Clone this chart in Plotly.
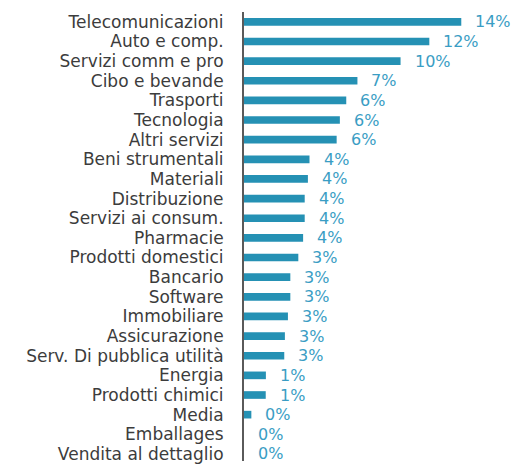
import plotly.graph_objects as go

# Sector weights (%), largest first
sectors = [
    "Telecomunicazioni", "Auto e comp.", "Servizi comm e pro", "Cibo e bevande",
    "Trasporti", "Tecnologia", "Altri servizi", "Beni strumentali", "Materiali",
    "Distribuzione", "Servizi ai consum.", "Pharmacie", "Prodotti domestici",
    "Bancario", "Software", "Immobiliare", "Assicurazione",
    "Serv. Di pubblica utilità", "Energia", "Prodotti chimici", "Media",
    "Emballages", "Vendita al dettaglio",
]
weights = [
    13.6, 11.6, 9.8, 7.1, 6.4, 6.0, 5.8, 4.1, 4.0, 3.8, 3.8, 3.7, 3.4,
    2.9, 2.9, 2.75, 2.56, 2.52, 1.37, 1.36, 0.46, 0.0, 0.0,
]

BAR = "#2591b4"
VAL = "#3a9dc4"
TXT = "#3c3c3c"
FONT = "DejaVu Sans"

fig = go.Figure(
    go.Bar(
        x=weights,
        y=sectors,
        orientation="h",
        marker=dict(color=BAR, line=dict(width=0)),
        width=0.39,
        hoverinfo="skip",
    )
)

for s, w in zip(sectors, weights):
    fig.add_annotation(
        x=w, y=s, text=f"{w:.0f}%", showarrow=False,
        xanchor="left", yanchor="middle", xshift=13,
        height=17, valign="middle", borderpad=0,
        font=dict(family=FONT, size=16, color=VAL),
    )

fig.update_layout(
    width=514, height=464,
    margin=dict(l=244, r=0, t=12, b=0),
    paper_bgcolor="white", plot_bgcolor="white",
    showlegend=False,
    font=dict(family=FONT, size=17, color=TXT),
    xaxis=dict(range=[0, 16.9], visible=False, fixedrange=True),
    yaxis=dict(
        type="category",
        categoryorder="array", categoryarray=sectors,
        tickmode="array", tickvals=sectors, ticktext=sectors,
        range=[22.36, -0.5],
        showline=True, linecolor="#5a5a5a", linewidth=2,
        showgrid=False, zeroline=False,
        ticks="outside", ticklen=15, tickcolor="rgba(0,0,0,0)",
        tickfont=dict(family=FONT, size=17, color=TXT),
        fixedrange=True,
    ),
)

fig.write_html("out.html")
